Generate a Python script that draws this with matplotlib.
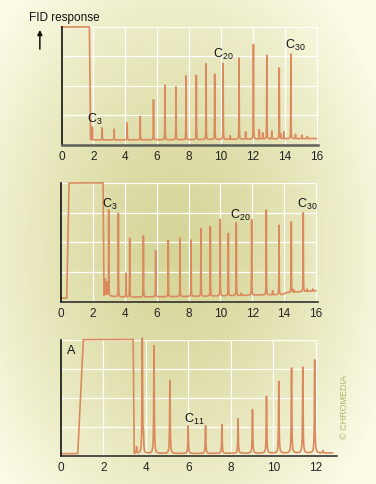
import numpy as np
import matplotlib
matplotlib.use("Agg")
import matplotlib.pyplot as plt

plt.rcParams["font.family"] = ["Liberation Sans", "DejaVu Sans"]
plt.rcParams["mathtext.fontset"] = "custom"
plt.rcParams["mathtext.rm"] = "Liberation Sans"
plt.rcParams["mathtext.it"] = "Liberation Sans:italic"
plt.rcParams["mathtext.default"] = "regular"

# =========================
# DATA
# =========================
# panel 1 - baseline knots incl. solvent block
base1_x = [0.0, 1.75, 1.82, 2.0, 8.0, 16.0]
base1_y = [4.0, 4.0, 0.18, 0.17, 0.18, 0.22]
peak1_x = [1.94, 2.55, 3.30, 4.12, 4.94, 5.77, 6.49, 7.18, 7.81, 8.46, 9.07, 9.61,
           10.14, 10.58, 11.14, 11.55, 12.04, 12.41, 12.62, 12.88, 13.19, 13.66,
           13.76, 13.95, 14.39, 14.68, 15.08, 15.42]
peak1_top = [0.61, 0.58, 0.54, 0.75, 0.97, 1.53, 2.03, 1.97, 2.34, 2.36, 2.75, 2.40,
             2.76, 0.32, 2.94, 0.45, 3.41, 0.52, 0.41, 3.04, 0.47, 2.61,
             0.36, 0.45, 3.08, 0.36, 0.34, 0.29]

# panel 2
base2_x = [0.0, 0.36, 0.50, 2.64, 2.70, 4.0, 9.8, 12.0, 13.9, 14.1, 16.0]
base2_y = [0.12, 0.12, 4.0, 4.0, 0.20, 0.15, 0.19, 0.22, 0.24, 0.30, 0.37]
peak2_x = [2.76, 2.82, 2.89, 2.99, 3.60, 4.08, 4.31, 5.17, 5.94, 6.73, 7.47, 8.16,
           8.78, 9.37, 9.99, 10.50, 11.00, 11.31, 11.96, 12.88, 13.28, 13.68,
           14.45, 14.60, 15.20, 15.45, 15.80]
peak2_top = [0.76, 0.59, 0.65, 3.09, 2.98, 0.96, 2.14, 2.22, 1.72, 2.07, 2.14, 2.08,
             2.47, 2.53, 2.77, 2.30, 2.66, 0.29, 2.77, 3.09, 0.37, 2.58,
             2.69, 0.40, 3.00, 0.42, 0.43]

# panel 3
base3_x = [0.0, 0.79, 1.05, 3.40, 3.45, 12.8]
base3_y = [0.07, 0.07, 4.0, 4.0, 0.07, 0.09]
peak3_x = [3.56, 3.83, 3.88, 4.38, 5.13, 5.99, 6.81, 7.58, 8.34, 9.02, 9.68, 10.26,
           10.86, 11.39, 11.95, 12.34]
peak3_top = [0.30, 4.0, 0.60, 3.79, 2.59, 1.03, 1.03, 1.07, 1.27, 1.59, 2.05, 2.56,
             3.02, 3.05, 3.30, 0.17]

xticks1 = [0, 2, 4, 6, 8, 10, 12, 14, 16]
xticks3 = [0, 2, 4, 6, 8, 10, 12]

labels1 = [("C$_{3}$", 1.60, 0.79), ("C$_{20}$", 9.52, 3.00), ("C$_{30}$", 14.02, 3.30)]
labels2 = [("C$_{3}$", 2.55, 3.20), ("C$_{20}$", 10.60, 2.84), ("C$_{30}$", 14.83, 3.20)]
labels3 = [("C$_{11}$", 5.80, 1.17), ("A", 0.27, 3.53)]

TRACE = "#da8a5c"


def build_trace(bx, by, px, ptop, g, step=0.002):
    x = np.arange(bx[0], bx[-1] + step, step)
    y = np.interp(x, bx, by)
    for xi, ti in zip(px, ptop):
        h = ti - np.interp(xi, bx, by)
        y = y + h / (1.0 + ((x - xi) / g) ** 2)
    return x, y


def setup_axes(ax, xmax_grid, xmax, ticks, bottom_color, bottom_lw):
    ax.set_facecolor("none")
    ax.set_xlim(0, xmax)
    ax.set_ylim(0, 4)
    ax.vlines(ticks[1:], 0, 4, color="white", lw=0.9, zorder=1)
    ax.hlines([1, 2, 3, 4], 0, xmax_grid, color="white", lw=0.9, zorder=1)
    ax.set_xticks(ticks)
    ax.set_yticks([])
    ax.tick_params(axis="x", length=0, pad=3.5, labelsize=8.5, labelcolor="#222222")
    for s in ["top", "right"]:
        ax.spines[s].set_visible(False)
    ax.spines["left"].set_color("black")
    ax.spines["left"].set_linewidth(1.1)
    ax.spines["bottom"].set_color(bottom_color)
    ax.spines["bottom"].set_linewidth(bottom_lw)
    for sp in ax.spines.values():
        sp.set_zorder(3)


fig = plt.figure(figsize=(3.76, 4.85), dpi=100)

# background gradient
bg = fig.add_axes([0, 0, 1, 1])
gx, gy = np.meshgrid(np.arange(376), np.arange(485))
t = np.sqrt(((gx - 175) / 230.0) ** 2 + ((gy - 250) / 330.0) ** 2)
t = np.clip(t, 0, 1) ** 1.4
dark = np.array([214, 213, 152]) / 255.0
light = np.array([251, 251, 230]) / 255.0
img = dark[None, None, :] + (light - dark)[None, None, :] * t[..., None]
bg.imshow(img, aspect="auto", extent=[0, 1, 0, 1])
bg.axis("off")

ax1 = fig.add_axes([0.1636, 0.699, 0.6825, 0.2433])
ax2 = fig.add_axes([0.1622, 0.3759, 0.6825, 0.2447])
ax3 = fig.add_axes([0.1622, 0.0584, 0.734, 0.2392])

setup_axes(ax1, 16, 16.1, xticks1, "#5f5f58", 1.8)
setup_axes(ax2, 16, 16.1, xticks1, "#222222", 1.1)
setup_axes(ax3, 12, 13.0, xticks3, "#222222", 1.1)

x1, y1 = build_trace(base1_x, base1_y, peak1_x, peak1_top, 0.008)
x2, y2 = build_trace(base2_x, base2_y, peak2_x, peak2_top, 0.008)
x3, y3 = build_trace(base3_x, base3_y, peak3_x, peak3_top, 0.015)
ax1.plot(x1, y1, color=TRACE, lw=1.2, zorder=2, clip_on=False)
ax2.plot(x2, y2, color=TRACE, lw=1.2, zorder=2, clip_on=False)
ax3.plot(x3, y3, color=TRACE, lw=1.2, zorder=2, clip_on=False)

for ax, labs in [(ax1, labels1), (ax2, labels2), (ax3, labels3)]:
    for txt, lx, ly in labs:
        ax.text(lx, ly, txt, fontsize=9, color="#111111", ha="left", va="baseline", zorder=4)

fig.text(0.078, 0.957, "FID response", fontsize=8.5, color="#111111", va="baseline", ha="left")
fig.add_artist(matplotlib.patches.FancyArrowPatch((0.106, 0.891), (0.106, 0.942),
                                                  transform=fig.transFigure, arrowstyle="-|>",
                                                  mutation_scale=7, lw=1.1, color="#111111"))
fig.text(0.915, 0.161, "\u00a9 CHROMEDIA", fontsize=6.5, color="#a9b86a", rotation=90,
         ha="center", va="center")

fig.savefig("out.png", dpi=100)
